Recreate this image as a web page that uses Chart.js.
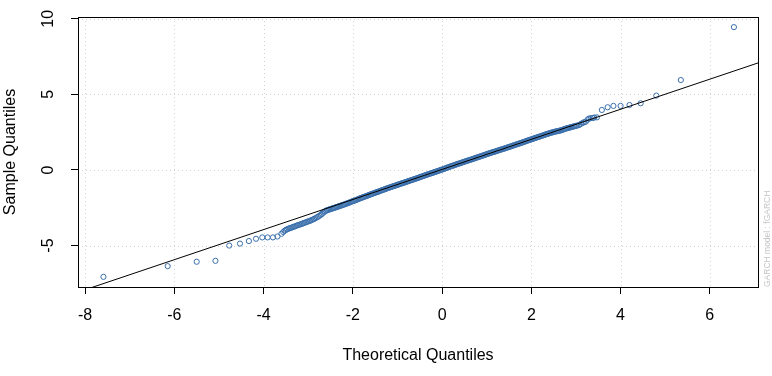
<!DOCTYPE html>
<html><head><meta charset="utf-8">
<script src="https://cdn.jsdelivr.net/npm/chart.js@4/dist/chart.umd.min.js"></script>
<style>html,body{margin:0;padding:0;background:#fff}#wrap{width:772px;height:376px}</style>
</head><body><div id="wrap"><canvas id="c" width="772" height="376"></canvas></div>
<script>
// Theoretical quantiles (x) and sample quantiles (y)
const theoreticalQuantiles = [
  -7.59,-6.15,-5.50,-5.08,-4.77,-4.53,-4.33,-4.17,-4.03,-3.91,-3.79,-3.69,-3.60,
  -3.56,-3.53,-3.50,-3.47,-3.44,-3.41,-3.38,-3.35,-3.32,-3.29,-3.26,-3.23,-3.20,-3.17,-3.14,-3.11,-3.08,
  -3.05,-3.02,-2.99,-2.96,-2.93,-2.90,-2.87,-2.84,-2.81,-2.78,-2.75,-2.72,-2.69,-2.66,-2.63,-2.60,
  -2.575,-2.55,-2.525,-2.50,-2.475,-2.45,-2.425,-2.40,
  -2.375,-2.35,-2.325,-2.30,-2.275,-2.25,-2.225,-2.20,
  -2.175,-2.15,-2.125,-2.10,-2.075,-2.05,-2.025,-2.00,
  -1.975,-1.95,-1.925,-1.90,-1.875,-1.85,-1.825,-1.80,
  -1.775,-1.75,-1.725,-1.70,-1.675,-1.65,-1.625,-1.60,
  -1.575,-1.55,-1.525,-1.50,-1.475,-1.45,-1.425,-1.40,
  -1.375,-1.35,-1.325,-1.30,-1.275,-1.25,-1.225,-1.20,
  -1.175,-1.15,-1.125,-1.10,-1.075,-1.05,-1.025,-1.00,
  -0.975,-0.95,-0.925,-0.90,-0.875,-0.85,-0.825,-0.80,
  -0.775,-0.75,-0.725,-0.70,-0.675,-0.65,-0.625,-0.60,
  -0.575,-0.55,-0.525,-0.50,-0.475,-0.45,-0.425,-0.40,
  -0.375,-0.35,-0.325,-0.30,-0.275,-0.25,-0.225,-0.20,
  -0.175,-0.15,-0.125,-0.10,-0.075,-0.05,-0.025,0.00,
  0.025,0.05,0.075,0.10,0.125,0.15,0.175,0.20,
  0.225,0.25,0.275,0.30,0.325,0.35,0.375,0.40,
  0.425,0.45,0.475,0.50,0.525,0.55,0.575,0.60,
  0.625,0.65,0.675,0.70,0.725,0.75,0.775,0.80,
  0.825,0.85,0.875,0.90,0.925,0.95,0.975,1.00,
  1.025,1.05,1.075,1.10,1.125,1.15,1.175,1.20,
  1.225,1.25,1.275,1.30,1.325,1.35,1.375,1.40,
  1.425,1.45,1.475,1.50,1.525,1.55,1.575,1.60,
  1.625,1.65,1.675,1.70,1.725,1.75,1.775,1.80,
  1.825,1.85,1.875,1.90,1.925,1.95,1.975,2.00,
  2.025,2.05,2.075,2.10,2.125,2.15,2.175,2.20,
  2.225,2.25,2.275,2.30,2.325,2.35,2.375,2.40,
  2.425,2.45,2.475,2.50,2.525,2.55,2.575,2.60,
  2.625,2.65,2.675,2.70,2.725,2.75,2.775,2.80,
  2.825,2.85,2.875,2.90,2.925,2.95,2.975,3.00,
  3.03,3.07,3.11,3.15,3.18,3.22,3.26,3.29,3.33,3.38,3.41,3.47,
  3.58,3.71,3.84,4.00,4.20,4.45,4.80,5.35,6.54
];
const sampleQuantiles = [
  -7.07,-6.36,-6.07,-6.01,-5.00,-4.87,-4.70,-4.55,-4.46,-4.46,-4.46,-4.40,-4.22,
  -4.10,-4.02,-3.96,-3.92,-3.88,-3.85,-3.82,-3.78,-3.75,-3.72,-3.68,-3.65,-3.62,-3.59,-3.56,-3.52,-3.49,
  -3.46,-3.42,-3.39,-3.36,-3.32,-3.28,-3.24,-3.19,-3.14,-3.09,-3.03,-2.97,-2.90,-2.82,-2.75,-2.69,
  -2.66,-2.63,-2.61,-2.59,-2.56,-2.54,-2.52,-2.49,
  -2.46,-2.44,-2.41,-2.39,-2.36,-2.34,-2.31,-2.29,
  -2.26,-2.23,-2.21,-2.18,-2.15,-2.12,-2.09,-2.06,
  -2.04,-2.01,-1.98,-1.95,-1.92,-1.89,-1.86,-1.83,
  -1.81,-1.78,-1.75,-1.72,-1.70,-1.67,-1.64,-1.61,
  -1.59,-1.56,-1.53,-1.50,-1.48,-1.45,-1.43,-1.40,
  -1.37,-1.34,-1.32,-1.29,-1.26,-1.23,-1.21,-1.18,
  -1.16,-1.13,-1.11,-1.08,-1.06,-1.03,-1.01,-0.98,
  -0.96,-0.93,-0.91,-0.88,-0.86,-0.83,-0.81,-0.78,
  -0.76,-0.73,-0.71,-0.68,-0.66,-0.63,-0.61,-0.58,
  -0.56,-0.53,-0.51,-0.48,-0.45,-0.43,-0.40,-0.37,
  -0.35,-0.32,-0.30,-0.27,-0.25,-0.22,-0.20,-0.17,
  -0.15,-0.12,-0.10,-0.07,-0.05,-0.02,0.01,0.03,
  0.06,0.08,0.11,0.14,0.16,0.19,0.22,0.25,
  0.27,0.30,0.32,0.35,0.37,0.40,0.42,0.45,
  0.47,0.50,0.52,0.55,0.57,0.60,0.62,0.64,
  0.67,0.69,0.72,0.74,0.77,0.79,0.82,0.84,
  0.87,0.89,0.92,0.94,0.97,0.99,1.02,1.04,
  1.07,1.09,1.12,1.14,1.17,1.19,1.21,1.23,
  1.26,1.28,1.31,1.33,1.36,1.38,1.40,1.42,
  1.45,1.47,1.50,1.52,1.55,1.57,1.60,1.62,
  1.65,1.67,1.70,1.72,1.75,1.77,1.80,1.82,
  1.85,1.87,1.90,1.93,1.95,1.98,2.00,2.03,
  2.05,2.08,2.10,2.13,2.15,2.18,2.20,2.23,
  2.25,2.28,2.30,2.33,2.35,2.38,2.40,2.43,
  2.45,2.47,2.49,2.51,2.53,2.55,2.56,2.58,
  2.60,2.61,2.64,2.66,2.69,2.71,2.74,2.76,
  2.78,2.80,2.82,2.84,2.86,2.88,2.90,2.92,
  2.94,2.97,3.05,3.11,3.16,3.19,3.33,3.40,3.43,3.44,3.47,3.48,
  3.97,4.15,4.24,4.24,4.30,4.41,4.92,5.95,9.45
];
// Reference (qq) line end points
const lineX = [-8.4, 7.3];
const lineY = [-8.32, 7.30];
// Axis ticks and texts
const xTicks = [-8,-6,-4,-2,0,2,4,6];
const yTicks = [-5,0,5,10];
const xTitle = 'Theoretical Quantiles';
const yTitle = 'Sample Quantiles';
const sideNote = 'GARCH model : fGARCH';

const FONT = "'Liberation Sans', Arial, Helvetica, sans-serif";

const rStyle = {
  id: 'rStyle',
  beforeDatasetsDraw(chart) {
    const {ctx, chartArea: a, scales: {x, y}} = chart;
    ctx.save();
    ctx.strokeStyle = '#d0d0d0';
    ctx.lineWidth = 1;
    ctx.setLineDash([1, 3]);
    xTicks.forEach(v => {
      const p = Math.round(x.getPixelForValue(v)) + 0.5;
      ctx.beginPath(); ctx.moveTo(p, a.top); ctx.lineTo(p, a.bottom); ctx.stroke();
    });
    yTicks.forEach(v => {
      const p = Math.round(y.getPixelForValue(v)) + 0.5;
      ctx.beginPath(); ctx.moveTo(a.left, p); ctx.lineTo(a.right, p); ctx.stroke();
    });
    ctx.restore();
  },
  afterDraw(chart) {
    const {ctx, chartArea: a, scales: {y}} = chart;
    ctx.save();
    ctx.strokeStyle = '#000'; ctx.lineWidth = 1; ctx.setLineDash([]);
    ctx.strokeRect(Math.round(a.left) + 0.5, Math.round(a.top) + 0.5,
      Math.round(a.right) - Math.round(a.left), Math.round(a.bottom) - Math.round(a.top));
    ctx.fillStyle = '#000';
    ctx.font = '16px ' + FONT;
    ctx.textAlign = 'center'; ctx.textBaseline = 'middle';
    yTicks.forEach(v => {
      ctx.save();
      ctx.translate(49, y.getPixelForValue(v));
      ctx.rotate(-Math.PI / 2);
      ctx.fillText(String(v), 0, 0);
      ctx.restore();
    });
    ctx.fillText(xTitle, (a.left + a.right) / 2, 356);
    ctx.save();
    ctx.translate(11, (a.top + a.bottom) / 2);
    ctx.rotate(-Math.PI / 2);
    ctx.fillText(yTitle, 0, 0);
    ctx.restore();
    ctx.save();
    ctx.fillStyle = '#c4c4c4';
    ctx.font = '8.5px ' + FONT;
    ctx.textAlign = 'left';
    ctx.translate(768, a.bottom);
    ctx.rotate(-Math.PI / 2);
    ctx.fillText(sideNote, 0, 0);
    ctx.restore();
    ctx.restore();
  }
};

new Chart(document.getElementById('c'), {
  data: {
    datasets: [
      {
        type: 'scatter',
        data: theoreticalQuantiles.map((v, i) => ({x: v, y: sampleQuantiles[i]})),
        pointStyle: 'circle',
        pointRadius: 2.6,
        pointBorderWidth: 1,
        borderColor: '#3a6fac',
        backgroundColor: 'rgba(0,0,0,0)',
        order: 2
      },
      {
        type: 'line',
        data: lineX.map((v, i) => ({x: v, y: lineY[i]})),
        borderColor: '#000',
        borderWidth: 1,
        pointRadius: 0,
        fill: false,
        clip: 0,
        order: 1
      }
    ]
  },
  options: {
    responsive: false,
    animation: false,
    devicePixelRatio: 1,
    layout: {padding: {left: 0, right: 14, top: 17, bottom: 0}},
    plugins: {legend: {display: false}, tooltip: {enabled: false}},
    scales: {
      x: {
        type: 'linear',
        min: -8.16, max: 7.08,
        afterBuildTicks: s => { s.ticks = xTicks.map(v => ({value: v})); },
        afterFit: s => { s.height = 89; },
        grid: {drawOnChartArea: false, drawTicks: true, tickLength: 7, tickColor: '#000', tickWidth: 1},
        border: {display: false},
        ticks: {color: '#000', font: {size: 16, family: FONT}, padding: 12, maxRotation: 0, autoSkip: false}
      },
      y: {
        type: 'linear',
        min: -7.74, max: 10.12,
        afterBuildTicks: s => { s.ticks = yTicks.map(v => ({value: v})); },
        afterFit: s => { s.width = 78; },
        grid: {drawOnChartArea: false, drawTicks: true, tickLength: 7, tickColor: '#000', tickWidth: 1},
        border: {display: false},
        ticks: {display: false}
      }
    }
  },
  plugins: [rStyle]
});
</script>
</body></html>
